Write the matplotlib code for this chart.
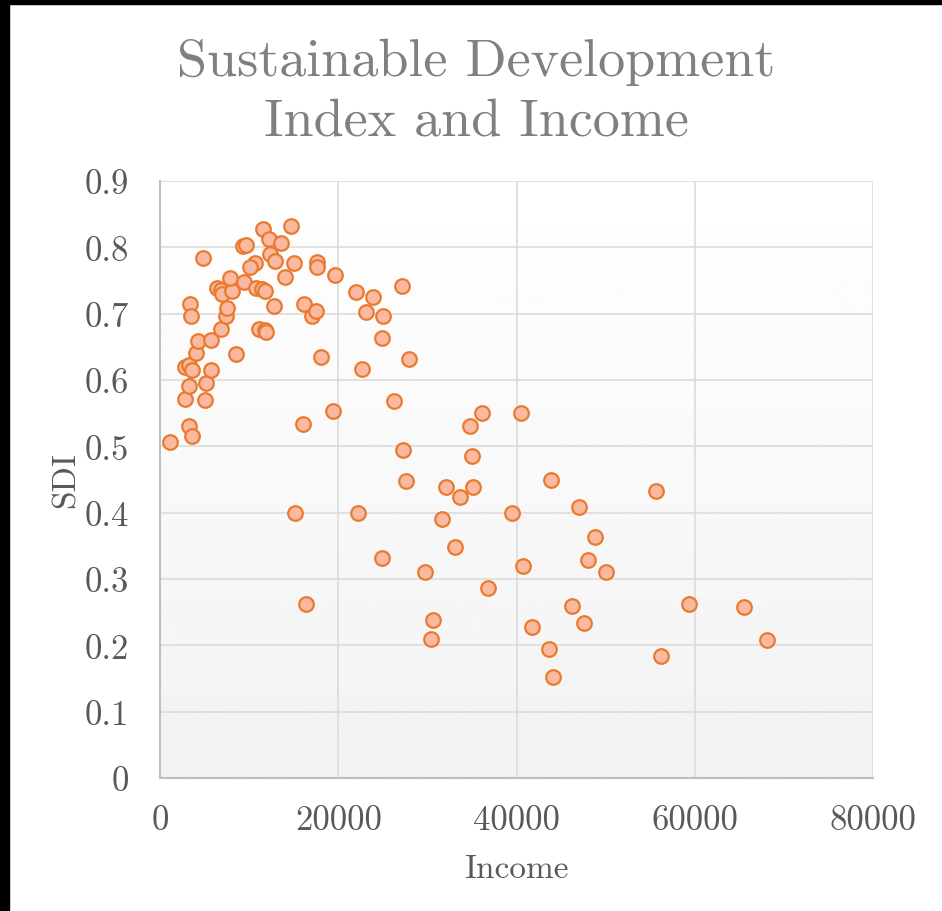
import matplotlib
matplotlib.use("Agg")
import matplotlib.pyplot as plt
import numpy as np
from matplotlib.patches import Rectangle
from matplotlib.ticker import FixedLocator, FuncFormatter

plt.rcParams["font.family"] = ["cmr10", "DejaVu Serif"]
plt.rcParams["axes.formatter.use_mathtext"] = True

# Income per country (x) and Sustainable Development Index (y)
income = [
    1120, 3250, 3560, 2770, 5070, 3280, 5160, 2750, 3200, 3620,
    5750, 4020, 4240, 5750, 6810, 8580, 7370, 7480, 3400, 3460,
    4780, 6430, 6810, 6990, 8080, 7890, 9460, 10770, 11480, 11730,
    10660, 10130, 9280, 9620, 11590, 12260, 13580, 14660, 12340, 12900,
    15040, 14030, 12830, 11140, 11730, 11890, 16160, 17020, 17500, 17620,
    17650, 19640, 18100, 16080, 19380, 15180, 16420, 21940, 22700, 22160,
    23880, 23060, 25000, 24880, 27150, 27940, 26290, 24930, 27230, 27600,
    36160, 34800, 40470, 35040, 32090, 35090, 33660, 31610, 39460, 33100,
    29770, 40760, 36770, 30630, 30370, 41740, 43610, 44100, 43840, 46960,
    48830, 47970, 49990, 46250, 47570, 55690, 59390, 56180, 65560, 68070,
]
sdi = [
    0.507, 0.531, 0.516, 0.571, 0.570, 0.591, 0.596, 0.620, 0.623, 0.615,
    0.615, 0.640, 0.659, 0.661, 0.677, 0.639, 0.697, 0.708, 0.714, 0.697,
    0.784, 0.739, 0.735, 0.729, 0.734, 0.754, 0.747, 0.739, 0.737, 0.734,
    0.776, 0.770, 0.802, 0.803, 0.827, 0.813, 0.807, 0.832, 0.790, 0.780,
    0.777, 0.756, 0.712, 0.677, 0.676, 0.673, 0.714, 0.697, 0.704, 0.778,
    0.771, 0.759, 0.634, 0.533, 0.553, 0.399, 0.263, 0.732, 0.617, 0.399,
    0.725, 0.703, 0.696, 0.663, 0.741, 0.631, 0.568, 0.332, 0.494, 0.448,
    0.551, 0.531, 0.550, 0.486, 0.439, 0.439, 0.424, 0.390, 0.400, 0.348,
    0.311, 0.320, 0.286, 0.238, 0.210, 0.227, 0.194, 0.153, 0.449, 0.409,
    0.364, 0.328, 0.310, 0.259, 0.233, 0.433, 0.263, 0.184, 0.258, 0.208,
]

x_ticks = [0, 20000, 40000, 60000, 80000]
y_ticks = [0, 0.1, 0.2, 0.3, 0.4, 0.5, 0.6, 0.7, 0.8, 0.9]

W, H = 942, 912
fig = plt.figure(figsize=(W / 100, H / 100), dpi=100)
fig.patch.set_facecolor("white")

ax = fig.add_axes([160 / W, 1 - 779 / H, (873 - 160) / W, (779 - 182) / H])
ax.set_facecolor("white")

# soft vertical gradient behind the plot area
grad = np.linspace(0.95, 1.0, 256).reshape(-1, 1)
ax.imshow(grad, extent=[0, 1, 0, 1], transform=ax.transAxes, aspect="auto",
          cmap="gray", vmin=0, vmax=1, origin="lower", zorder=0, interpolation="bicubic")

ax.scatter(income, sdi, s=110, facecolor="#FBB9A2", edgecolor="#E97A2E",
           linewidths=1.6, zorder=3, clip_on=False)

ax.set_xlim(0, 80000)
ax.set_ylim(0, 0.9)
ax.xaxis.set_major_locator(FixedLocator(x_ticks))
ax.yaxis.set_major_locator(FixedLocator(y_ticks))
ax.xaxis.set_major_formatter(FuncFormatter(lambda v, p: f"{v:.0f}"))
ax.yaxis.set_major_formatter(FuncFormatter(lambda v, p: "0" if abs(v) < 1e-9 else f"{v:.1f}"))

ax.grid(True, color="#D9D9D9", linewidth=1.1, zorder=1)
ax.set_axisbelow(True)
for side in ("top", "right"):
    ax.spines[side].set_visible(False)
for side in ("left", "bottom"):
    ax.spines[side].set_color("#BFBFBF")
    ax.spines[side].set_linewidth(1.5)
    ax.spines[side].set_zorder(2)

ax.tick_params(axis="both", length=0, labelsize=25, labelcolor="#595959")
ax.tick_params(axis="y", pad=22)
ax.tick_params(axis="x", pad=19)

ax.set_xlabel("Income", fontsize=24, color="#595959", labelpad=13)
ax.set_ylabel("SDI", fontsize=24, color="#595959", labelpad=3)

fig.text(476 / W, 1 - 76 / H, "Sustainable Development", ha="center", va="baseline",
         fontsize=39, color="#808080")
fig.text(476 / W, 1 - 135 / H, "Index and Income", ha="center", va="baseline",
         fontsize=39, color="#808080")

# dark frame along the left and top edges
fig.patches.append(Rectangle((0, 0), 9 / W, 1, transform=fig.transFigure,
                             color="black", zorder=10))
fig.patches.append(Rectangle((0, 1 - 5 / H), 1, 5 / H, transform=fig.transFigure,
                             color="black", zorder=10))

fig.savefig("out.png", dpi=100)
